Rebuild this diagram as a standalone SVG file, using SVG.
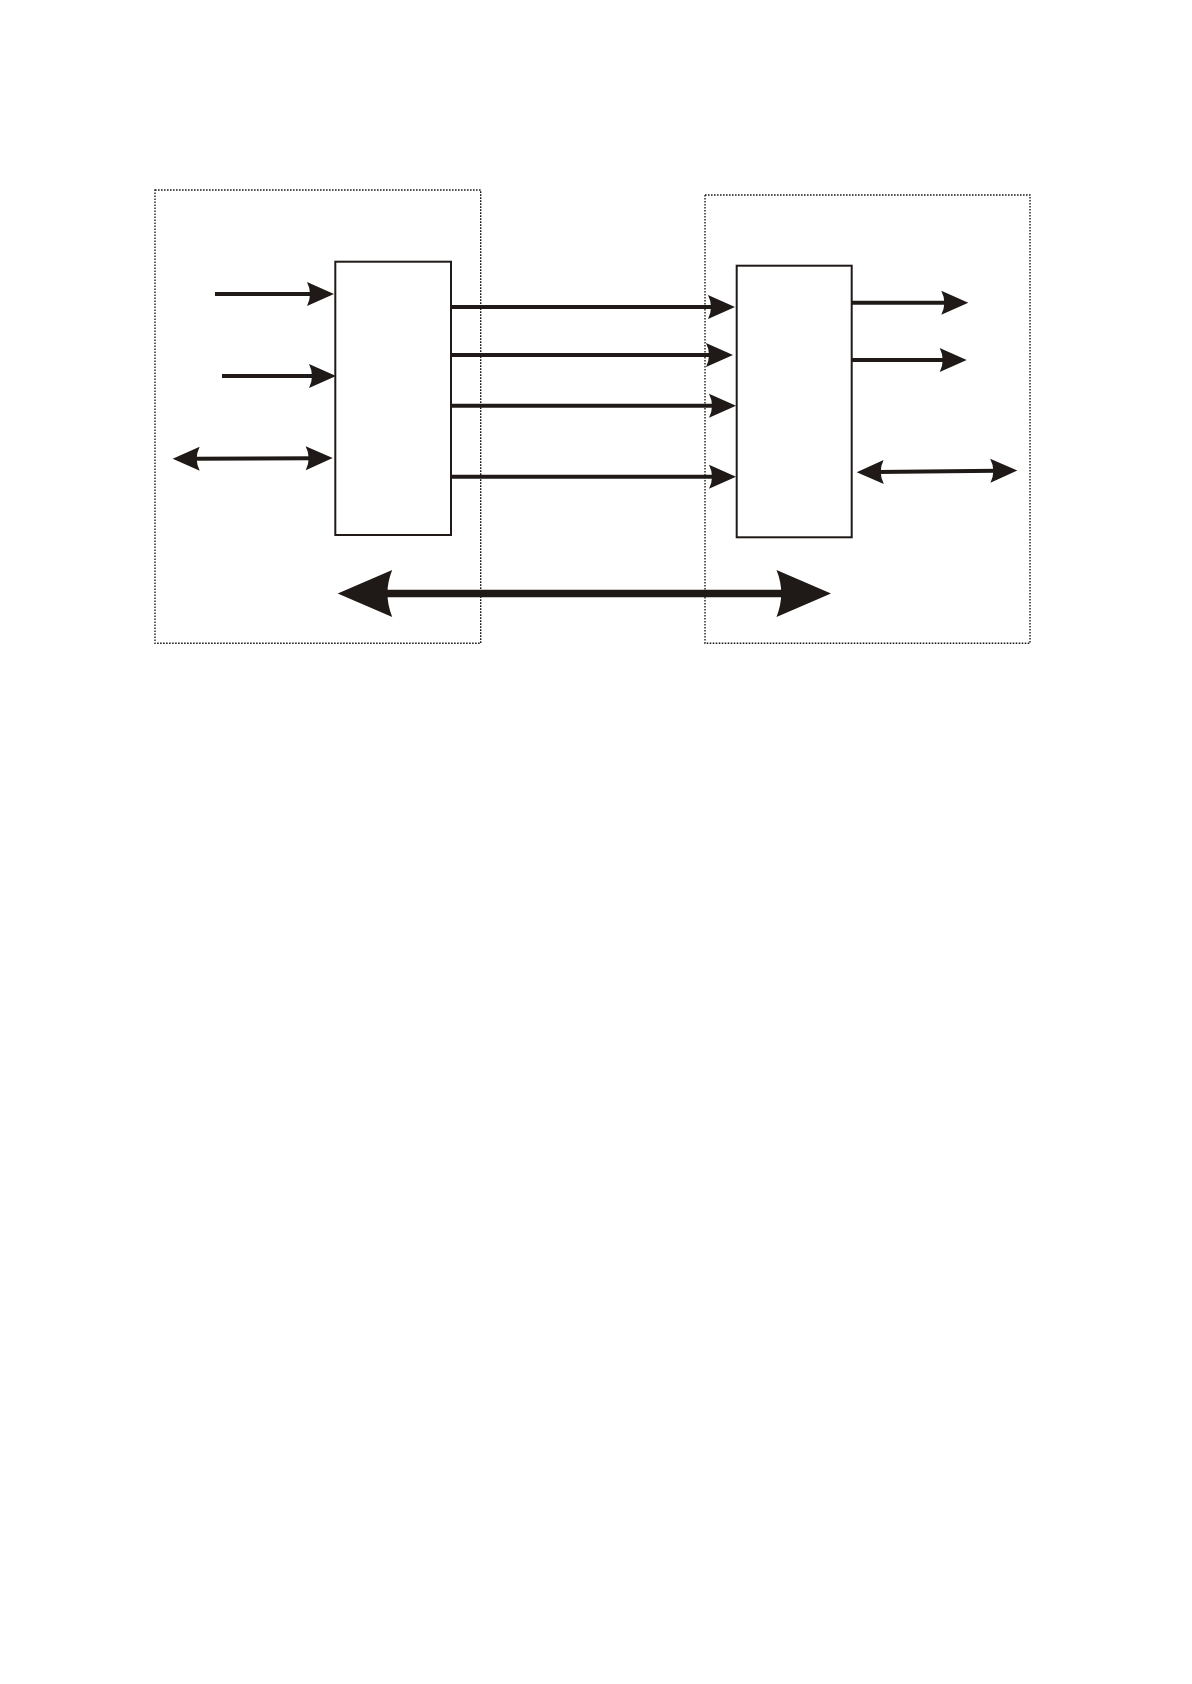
<svg xmlns="http://www.w3.org/2000/svg" width="1192" height="1684" viewBox="0 0 1192 1684">
  <style>
    .frame { fill: none; stroke: #1f1a17; stroke-width: 1.4; stroke-dasharray: 1.6 1.4; }
    .block { fill: #ffffff; stroke: #1f1a17; stroke-width: 2; }
    .wire { fill: none; stroke: #1f1a17; stroke-width: 3.9; }
    .bus { fill: none; stroke: #1f1a17; stroke-width: 7.6; }
    .head { fill: #1f1a17; stroke: none; }
  </style>
  <defs>
    <marker id="ah" markerUnits="userSpaceOnUse" viewBox="-8 -13 29 26" markerWidth="29" markerHeight="26" refX="0" refY="0" orient="auto-start-reverse">
      <path class="head" d="M20,0 L-7,-12 Q-1,0 -7,12 Z"/>
    </marker>
    <marker id="bh" markerUnits="userSpaceOnUse" viewBox="-12 -25 57 50" markerWidth="57" markerHeight="50" refX="0" refY="0" orient="auto-start-reverse">
      <path class="head" d="M44,0 L-10.5,-23.4 Q-1,0 -10.5,23.4 Z"/>
    </marker>
  </defs>
  <rect width="1192" height="1684" fill="#ffffff"/>

  <g id="left-frame">
    <rect class="frame" x="155" y="190" width="325.7" height="453.3"/>
  </g>
  <g id="right-frame">
    <rect class="frame" x="705" y="195" width="325" height="448.3"/>
  </g>
  <g id="left-block">
    <rect class="block" x="335.3" y="261.7" width="115.7" height="273.3"/>
  </g>
  <g id="right-block">
    <rect class="block" x="736.7" y="265.7" width="115" height="271.6"/>
  </g>

  <g id="connectors">
    <line class="wire" x1="215" y1="294" x2="314" y2="294" marker-end="url(#ah)"/>
    <line class="wire" x1="222" y1="376" x2="316" y2="376" marker-end="url(#ah)"/>
    <line class="wire" x1="192.7" y1="458.7" x2="312.7" y2="458.2" marker-start="url(#ah)" marker-end="url(#ah)"/>

    <line class="wire" x1="451" y1="307" x2="715" y2="307" marker-end="url(#ah)"/>
    <line class="wire" x1="451" y1="355" x2="713" y2="355" marker-end="url(#ah)"/>
    <line class="wire" x1="451" y1="405.7" x2="716" y2="405.7" marker-end="url(#ah)"/>
    <line class="wire" x1="451" y1="476.7" x2="716" y2="476.7" marker-end="url(#ah)"/>

    <line class="wire" x1="851.7" y1="302.7" x2="948.3" y2="302.7" marker-end="url(#ah)"/>
    <line class="wire" x1="851.7" y1="360" x2="946.7" y2="360" marker-end="url(#ah)"/>
    <line class="wire" x1="876.7" y1="472" x2="997.3" y2="470.7" marker-start="url(#ah)" marker-end="url(#ah)"/>

    <line class="bus" x1="381.7" y1="593.5" x2="787" y2="593.5" marker-start="url(#bh)" marker-end="url(#bh)"/>
  </g>
</svg>
